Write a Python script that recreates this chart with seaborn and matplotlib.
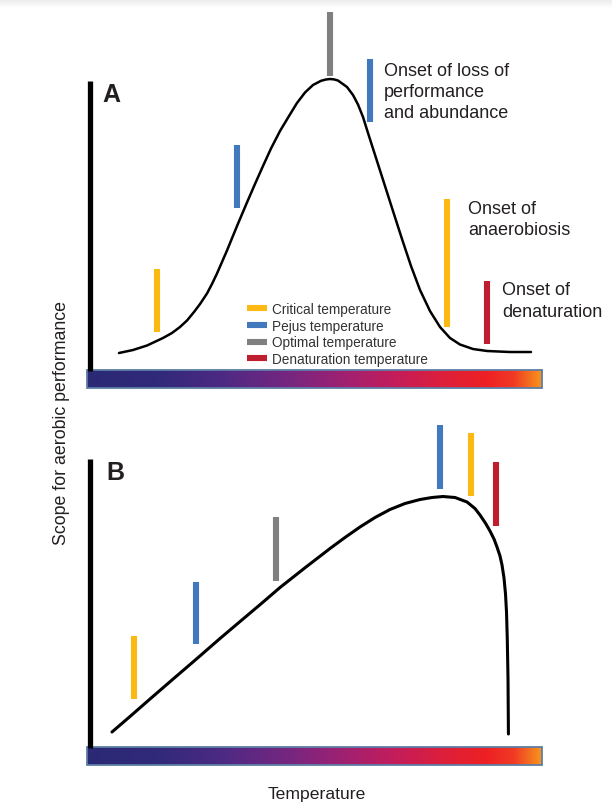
import numpy as np
import pandas as pd
import matplotlib
matplotlib.use("Agg")
import matplotlib.pyplot as plt
import seaborn as sns
from matplotlib.colors import LinearSegmentedColormap
from matplotlib.lines import Line2D
from matplotlib.patches import Rectangle

# ---------------- data ----------------
# Panel A: bell-shaped thermal performance curve (temperature 0-100, scope units)
temp_a = [7.03, 10.11, 13.19, 16.70, 18.68, 20.44, 21.98, 23.52, 24.84, 26.37,
          27.47, 28.57, 29.67, 30.77, 32.97, 35.16, 36.92, 38.68, 40.44, 42.42,
          44.40, 46.15, 47.91, 49.67, 51.43, 52.53, 53.41, 54.29, 55.16, 57.14,
          58.46, 59.56, 60.66, 61.76, 63.52, 65.49, 67.25, 69.23, 71.21, 73.19,
          75.38, 77.58, 79.78, 81.98, 84.84, 87.91, 92.97, 97.58]
scope_a = [6.00, 7.00, 8.50, 11.00, 12.67, 14.67, 16.83, 19.67, 22.33, 25.83,
           29.00, 32.50, 36.33, 40.17, 48.33, 56.17, 62.33, 68.33, 74.17, 80.00,
           85.00, 89.33, 92.83, 95.33, 96.73, 97.17, 97.33, 97.20, 96.83, 94.67,
           92.00, 88.83, 84.67, 79.33, 71.00, 61.67, 53.33, 44.00, 35.00, 27.00,
           20.00, 14.67, 11.00, 8.83, 7.33, 6.67, 6.33, 6.33]

# Panel B: skewed curve
temp_b = [5.49, 9.45, 13.85, 18.68, 24.18, 29.23, 34.29, 38.46, 42.42, 47.91,
          53.41, 56.70, 60.00, 63.30, 66.59, 69.89, 73.19, 75.82, 78.24, 80.88,
          83.52, 85.27, 86.37, 87.69, 88.57, 89.45, 90.11, 90.77, 91.21, 91.65,
          91.98, 92.20, 92.37, 92.53, 92.62]
scope_b = [5.33, 10.50, 16.33, 22.67, 29.83, 36.50, 43.00, 48.33, 53.50, 60.07,
           66.50, 70.17, 73.67, 76.83, 79.50, 81.50, 82.83, 83.50, 83.83, 83.50,
           82.00, 79.83, 77.67, 74.67, 72.33, 69.67, 67.00, 64.00, 61.00, 56.67,
           51.33, 45.33, 36.33, 23.00, 4.67]

# Threshold markers
marker_kinds = ["Critical temperature", "Pejus temperature",
                "Optimal temperature", "Denaturation temperature"]

a_mark_kind = ["Critical temperature", "Pejus temperature", "Optimal temperature",
               "Pejus temperature", "Critical temperature", "Denaturation temperature"]
a_mark_temp = [15.4, 33.0, 53.4, 62.2, 79.1, 87.9]
a_mark_low = [13.0, 54.3, 98.3, 83.0, 14.7, 9.0]
a_mark_high = [34.0, 75.3, 119.7, 104.0, 57.3, 30.0]

b_mark_kind = ["Critical temperature", "Pejus temperature", "Optimal temperature",
               "Pejus temperature", "Critical temperature", "Denaturation temperature"]
b_mark_temp = [10.3, 24.0, 41.5, 77.6, 84.4, 89.9]
b_mark_low = [16.3, 34.7, 55.7, 86.3, 84.0, 74.0]
b_mark_high = [37.3, 55.3, 77.0, 107.7, 105.0, 95.3]

a_notes = ["Onset of loss of\nperformance\nand abundance",
           "Onset of\nanaerobiosis",
           "Onset of\ndenaturation"]

# ---------------- style ----------------
sns.set_theme(style="white")
plt.rcParams["font.family"] = ["Liberation Sans", "DejaVu Sans"]

palette = {"Critical temperature": "#fdb913",
           "Pejus temperature": "#4178be",
           "Optimal temperature": "#808080",
           "Denaturation temperature": "#be1e2d"}
TEXT = "#231f20"

grad = LinearSegmentedColormap.from_list(
    "temp", [(0.0, "#2b2a74"), (0.15, "#30297a"), (0.30, "#4e2a84"),
             (0.45, "#78267f"), (0.58, "#a5206f"), (0.68, "#c41d5a"),
             (0.78, "#dc1f3c"), (0.88, "#ee2024"), (0.94, "#f03a24"),
             (1.0, "#f7941d")])

W, H = 612, 803
fig = plt.figure(figsize=(W / 100, H / 100), dpi=100)

# faint shadow strip at top
ax_sh = fig.add_axes([0, 1 - 9 / H, 1, 9 / H])
ax_sh.imshow(np.linspace(0, 1, 50).reshape(-1, 1), cmap=LinearSegmentedColormap.from_list(
    "sh", ["#e9e9e9", "#ffffff"]), aspect="auto", extent=[0, 1, 0, 1])
ax_sh.axis("off")

X0, X1 = 87, 542          # pixel extent of temperature axis
PX_PER_UNIT = 3.0


def make_panel(baseline_px, top_px, bottom_px):
    ylo = -(bottom_px - baseline_px) / PX_PER_UNIT
    yhi = (baseline_px - top_px) / PX_PER_UNIT
    ax = fig.add_axes([X0 / W, 1 - bottom_px / H, (X1 - X0) / W, (bottom_px - top_px) / H])
    ax.set_xlim(0, 100)
    ax.set_ylim(ylo, yhi)
    ax.axis("off")
    return ax, (ylo, yhi)


def draw_panel(ax, lims, tx, sy, kinds, mt, lo, hi, lw_curve, axis_top, letter, letter_pos):
    # gradient temperature bar
    ax.imshow(np.linspace(0, 1, 256).reshape(1, -1), cmap=grad, aspect="auto",
              extent=[0, 100, -5.6, 0.3], zorder=1, interpolation="bilinear")
    ax.add_patch(Rectangle((0, -5.6), 100, 5.9, fill=False, edgecolor="#5d7ea6",
                           lw=1.3, zorder=2, clip_on=False))
    # vertical axis
    ax.plot([0.55, 0.55], [0, axis_top], color="black", lw=3.8,
            solid_capstyle="butt", clip_on=False, zorder=3)
    # curve
    df = pd.DataFrame({"Temperature": tx, "Scope": sy})
    sns.lineplot(data=df, x="Temperature", y="Scope", ax=ax, sort=False,
                 estimator=None, color="black", lw=lw_curve, zorder=4,
                 solid_joinstyle="round", solid_capstyle="round")
    # threshold markers
    for k, t, l, h in zip(kinds, mt, lo, hi):
        ax.plot([t, t], [l, h], color=palette[k], lw=4.4, solid_capstyle="butt",
                clip_on=False, zorder=5)
    ax.text(letter_pos[0], letter_pos[1], letter, fontsize=18, fontweight="bold",
            color=TEXT, ha="left", va="baseline")
    ax.set_xlim(0, 100)
    ax.set_ylim(*lims)


ax_a, lims_a = make_panel(372, 0, 392)
draw_panel(ax_a, lims_a, temp_a, scope_a, a_mark_kind, a_mark_temp, a_mark_low, a_mark_high,
           1.8, 96.7, "A", (3.3, 90.0))

# annotations panel A
note_pos = [(65.3, 98.67, 7.0), (83.7, 52.67, 7.0), (91.2, 25.67, 7.2)]
for note, (nx, ny, step) in zip(a_notes, note_pos):
    for i, line in enumerate(note.split("\n")):
        ax_a.text(nx, ny - i * step, line, fontsize=13, color=TEXT,
                  ha="left", va="baseline", clip_on=False)

# legend panel A
handles = [Line2D([], [], color=palette[k], lw=4.4, solid_capstyle="butt")
           for k in marker_kinds]
leg = fig.legend(handles, marker_kinds, loc="upper left",
                 bbox_to_anchor=(247 / W, 1 - 303 / H), bbox_transform=fig.transFigure,
                 frameon=False, fontsize=9.8, handlelength=1.5, handletextpad=0.33,
                 labelspacing=0.2, borderpad=0, borderaxespad=0)
for t in leg.get_texts():
    t.set_color("#333333")

ax_b, lims_b = make_panel(749, 400, 771)
draw_panel(ax_b, lims_b, temp_b, scope_b, b_mark_kind, b_mark_temp, b_mark_low, b_mark_high,
           2.2, 96.3, "B", (4.2, 89.7))

fig.text(61 / W, 1 - 423 / H, "Scope for aerobic performance", rotation=90,
         ha="center", va="center", fontsize=12.8, color=TEXT)
fig.text(317 / W, 1 - 799 / H, "Temperature", ha="center", va="baseline",
         fontsize=12.6, color=TEXT)

fig.savefig("out.png", dpi=100)
